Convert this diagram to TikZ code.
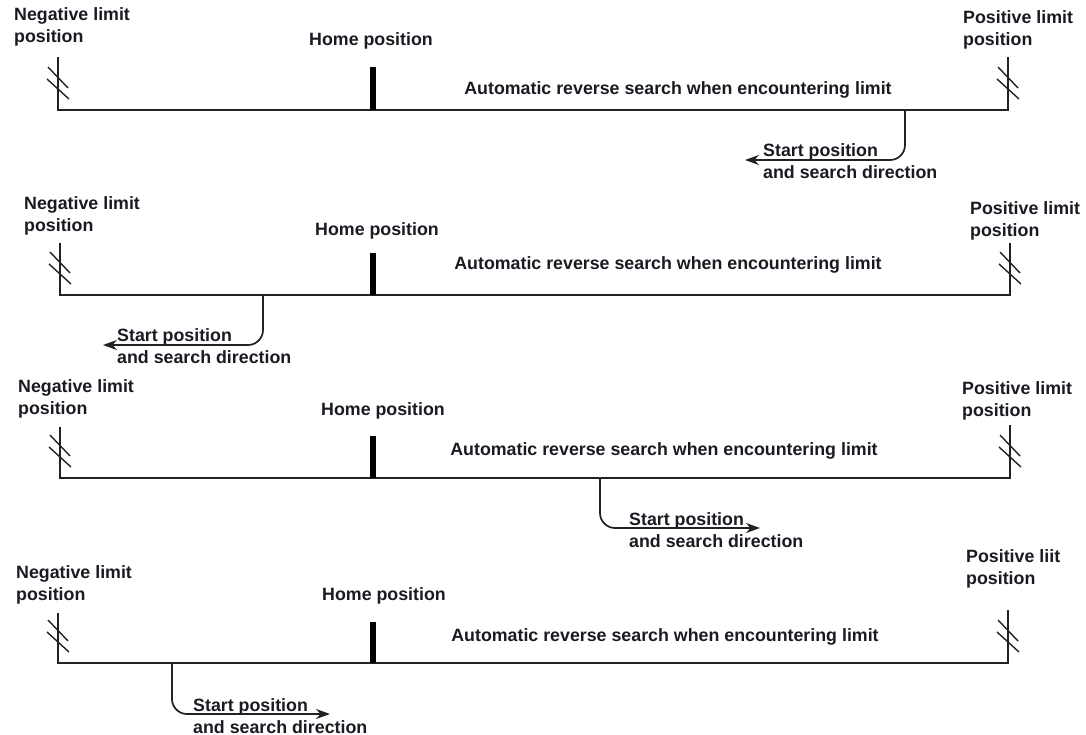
\documentclass[tikz,border=0pt]{standalone}
\usepackage{fontspec}
\setmainfont{Liberation Sans}
\usetikzlibrary{arrows.meta}
\definecolor{txt}{HTML}{1A1A22}
\definecolor{ln}{HTML}{222222}
\tikzset{
  lbl/.style={inner sep=0pt, font=\bfseries\fontsize{17.8}{22}\selectfont, text=txt, align=left},
  axis/.style={draw=ln, line width=2pt},
  hatch/.style={draw=ln, line width=1.4pt},
  homebar/.style={draw=black, line width=6pt},
  searcharrow/.style={draw=ln, line width=1.7pt, rounded corners=15pt, -{Stealth[length=14pt,width=10pt]}}
}
\begin{document}
\begin{tikzpicture}[x=1pt,y=-1pt]
\useasboundingbox (0,0) rectangle (1086,735);
% ---------- panel 1 ----------
\coordinate (Lt1) at (58,57); \coordinate (L1) at (58,110);
\coordinate (Rt1) at (1008,57); \coordinate (R1) at (1008,110);
\coordinate (Ht1) at (373,67); \coordinate (H1) at (373,110);
\coordinate (S1) at (905,110); \coordinate (E1) at (745,160);
\node[lbl, anchor=west] (neg1) at (14,27) {Negative limit\\position};
\node[lbl, anchor=west] (pos1) at (963,30) {Positive limit\\position};
\node[lbl] (home1) at (371,41) {Home position};
\node[lbl] (auto1) at (678,90) {Automatic reverse search when encountering limit};
\node[lbl, anchor=west] (start1) at (763,161) {Start position\\and search direction};
\draw[axis] (Lt1) -- (L1) -- (R1) -- (Rt1);
\draw[homebar] (Ht1) -- (H1);
\draw[hatch] (L1) ++(-10,-43) -- ++(20,21) (L1) ++(-11,-31) -- ++(22,20);
\draw[hatch] (R1) ++(-10,-43) -- ++(20,21) (R1) ++(-11,-31) -- ++(22,20);
\draw[searcharrow] (S1) |- (E1);
% ---------- panel 2 ----------
\coordinate (Lt2) at (60,243); \coordinate (L2) at (60,295);
\coordinate (Rt2) at (1010,243); \coordinate (R2) at (1010,295);
\coordinate (Ht2) at (373,253); \coordinate (H2) at (373,295);
\coordinate (S2) at (263,295); \coordinate (E2) at (103,345);
\node[lbl, anchor=west] (neg2) at (24,216) {Negative limit\\position};
\node[lbl, anchor=west] (pos2) at (970,221) {Positive limit\\position};
\node[lbl] (home2) at (377,231) {Home position};
\node[lbl] (auto2) at (668,265) {Automatic reverse search when encountering limit};
\node[lbl, anchor=west] (start2) at (117,346) {Start position\\and search direction};
\draw[axis] (Lt2) -- (L2) -- (R2) -- (Rt2);
\draw[homebar] (Ht2) -- (H2);
\draw[hatch] (L2) ++(-10,-43) -- ++(20,21) (L2) ++(-11,-31) -- ++(22,20);
\draw[hatch] (R2) ++(-10,-43) -- ++(20,21) (R2) ++(-11,-31) -- ++(22,20);
\draw[searcharrow] (S2) |- (E2);
% ---------- panel 3 ----------
\coordinate (Lt3) at (60,427); \coordinate (L3) at (60,478);
\coordinate (Rt3) at (1010,425); \coordinate (R3) at (1010,478);
\coordinate (Ht3) at (373,436); \coordinate (H3) at (373,478);
\coordinate (S3) at (600,478); \coordinate (E3) at (760,528);
\node[lbl, anchor=west] (neg3) at (18,399) {Negative limit\\position};
\node[lbl, anchor=west] (pos3) at (962,401) {Positive limit\\position};
\node[lbl] (home3) at (383,411) {Home position};
\node[lbl] (auto3) at (664,451) {Automatic reverse search when encountering limit};
\node[lbl, anchor=west] (start3) at (629,530) {Start position\\and search direction};
\draw[axis] (Lt3) -- (L3) -- (R3) -- (Rt3);
\draw[homebar] (Ht3) -- (H3);
\draw[hatch] (L3) ++(-10,-43) -- ++(20,21) (L3) ++(-11,-31) -- ++(22,20);
\draw[hatch] (R3) ++(-10,-43) -- ++(20,21) (R3) ++(-11,-31) -- ++(22,20);
\draw[searcharrow] (S3) |- (E3);
% ---------- panel 4 ----------
\coordinate (Lt4) at (58,613); \coordinate (L4) at (58,663);
\coordinate (Rt4) at (1008,610); \coordinate (R4) at (1008,663);
\coordinate (Ht4) at (373,622); \coordinate (H4) at (373,663);
\coordinate (S4) at (172,663); \coordinate (E4) at (330,714);
\node[lbl, anchor=west] (neg4) at (16,585) {Negative limit\\position};
\node[lbl, anchor=west] (pos4) at (966,569) {Positive liit\\position};
\node[lbl] (home4) at (384,596) {Home position};
\node[lbl] (auto4) at (665,637) {Automatic reverse search when encountering limit};
\node[lbl, anchor=west] (start4) at (193,716) {Start position\\and search direction};
\draw[axis] (Lt4) -- (L4) -- (R4) -- (Rt4);
\draw[homebar] (Ht4) -- (H4);
\draw[hatch] (L4) ++(-10,-43) -- ++(20,21) (L4) ++(-11,-31) -- ++(22,20);
\draw[hatch] (R4) ++(-10,-43) -- ++(20,21) (R4) ++(-11,-31) -- ++(22,20);
\draw[searcharrow] (S4) |- (E4);
\end{tikzpicture}
\end{document}
